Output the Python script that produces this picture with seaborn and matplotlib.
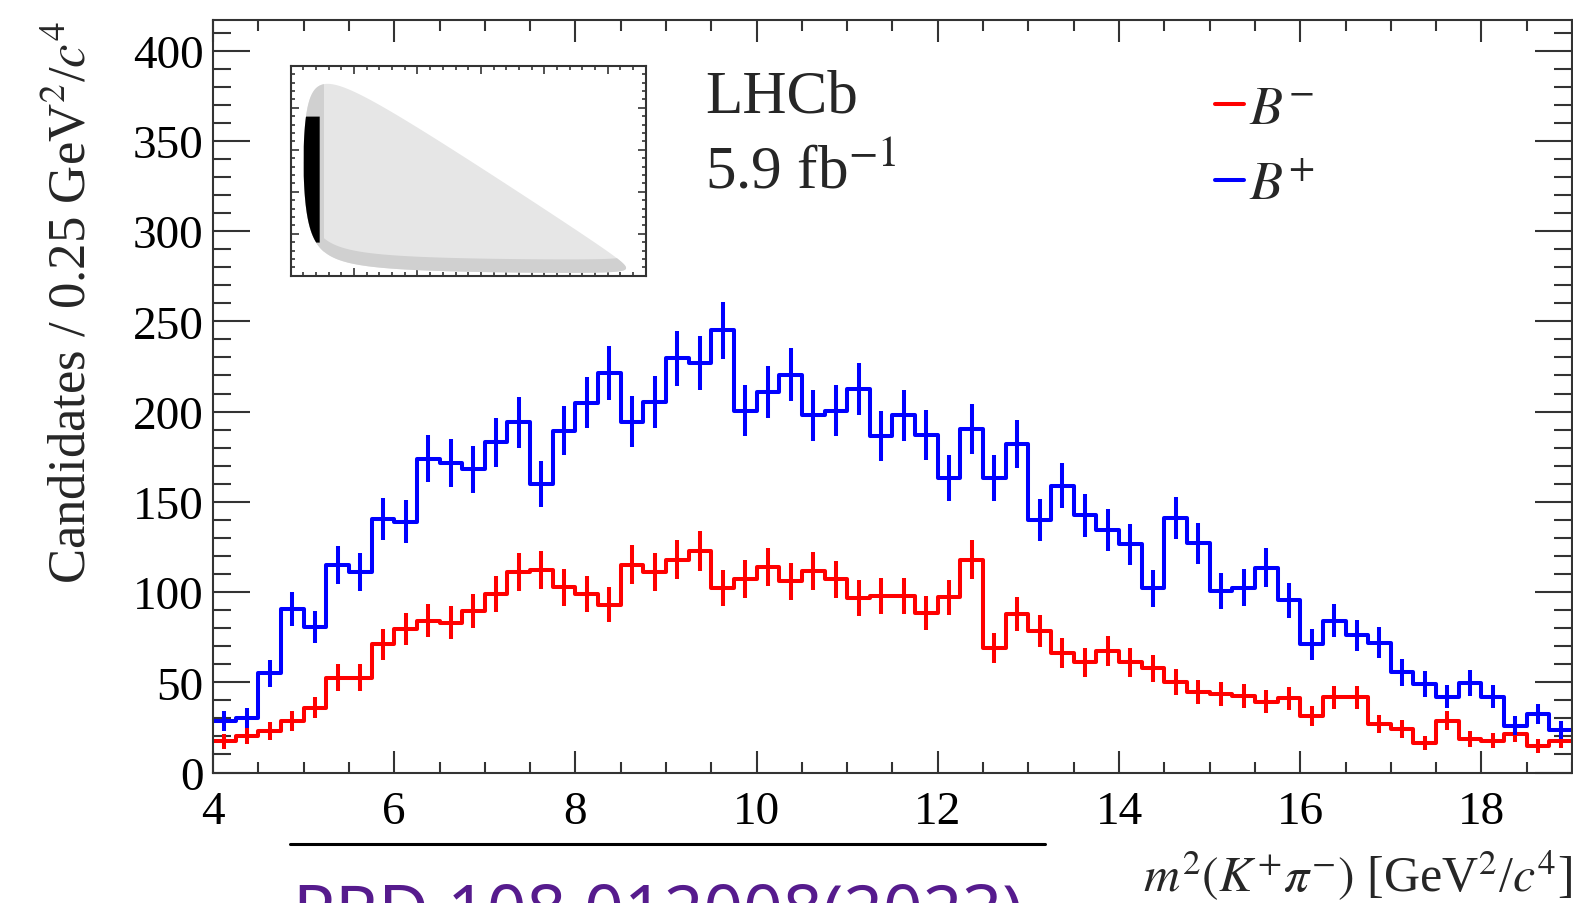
import numpy as np
import pandas as pd
import matplotlib
matplotlib.use("Agg")
import matplotlib.pyplot as plt
from matplotlib.lines import Line2D
from matplotlib.ticker import MultipleLocator, NullFormatter
import seaborn as sns

# ---------------- data ----------------
bin_lo, bin_hi, bin_w = 4.0, 19.0, 0.25

counts_bminus = [17.4, 20, 23, 28.5, 36, 52.6, 52.6, 71, 79.4, 84,
                 83, 89.6, 99, 111, 112, 102.6, 99, 93, 115.2, 111.2,
                 118, 122.6, 102.3, 107.3, 114, 106, 111.5, 107, 96.8, 98,
                 98, 88.5, 97, 118, 69, 87.8, 78.6, 66.2, 61, 67.5,
                 61, 57.7, 50.3, 44.4, 43.5, 42.5, 39.2, 41.1, 31.5, 41.7,
                 41.7, 26.9, 24.1, 16.3, 28.7, 18.6, 17.6, 21.3, 14.8, 17.6]

counts_bplus = [28.5, 30, 55, 90.5, 80.5, 115, 111, 140.5, 139, 174,
                171.5, 168, 183, 194, 160, 189.5, 205, 221.5, 194.5, 205.5,
                229.5, 227, 245, 200.5, 211, 220.5, 198, 200.5, 212.5, 186.5,
                198, 187, 163, 190.5, 163, 182, 140, 159, 142.5, 134.5,
                126.5, 102, 141, 127, 100.5, 102.5, 113.5, 95.5, 71, 84,
                76, 72, 55.5, 49, 42, 49.5, 42, 26, 32.5, 23.5]

series_labels = [r"$B^{-}$", r"$B^{+}$"]
series_colors = ["#ff0000", "#0000ff"]

# inset (Dalitz plot) kinematics: B- -> K- K+ pi-
m_B, m_K, m_pi = 5.279, 0.4937, 0.1396
cut_mKK2_max = 2.25
cut_mKpi2 = (4.0, 19.0)

edges = np.arange(bin_lo, bin_hi + bin_w / 2, bin_w)
centres = 0.5 * (edges[:-1] + edges[1:])

df = pd.concat([
    pd.DataFrame({"m2": centres, "n": counts_bminus, "charge": "B-"}),
    pd.DataFrame({"m2": centres, "n": counts_bplus, "charge": "B+"}),
], ignore_index=True)

# ---------------- style ----------------
sns.set_theme(style="ticks")
plt.rcParams["font.family"] = ["Liberation Serif", "DejaVu Serif"]
plt.rcParams["mathtext.fontset"] = "stix"
plt.rcParams["axes.unicode_minus"] = True

W, H = 1573, 904
fig = plt.figure(figsize=(W / 100, H / 100), dpi=100)
ax = fig.add_axes([213 / W, 1 - 773.5 / H, (1572 - 213) / W, (773.5 - 21) / H])

frame_col = "#333333"
lw = 2.9

sns.histplot(data=df, x="m2", weights="n", hue="charge",
             binwidth=bin_w, binrange=(bin_lo, bin_hi),
             element="step", fill=False,
             palette={"B-": series_colors[0], "B+": series_colors[1]},
             linewidth=lw, legend=False, ax=ax, hue_order=["B-", "B+"])

for vals, col in [(counts_bminus, series_colors[0]), (counts_bplus, series_colors[1])]:
    v = np.asarray(vals)
    ax.errorbar(centres, v, yerr=np.sqrt(v), fmt="none", ecolor=col,
                elinewidth=lw, capsize=0)

ax.set_xlim(bin_lo, bin_hi)
ax.set_ylim(0, 417)
ax.xaxis.set_major_locator(MultipleLocator(2))
ax.xaxis.set_minor_locator(MultipleLocator(0.5))
ax.yaxis.set_major_locator(MultipleLocator(50))
ax.yaxis.set_minor_locator(MultipleLocator(10))

for s in ax.spines.values():
    s.set_color(frame_col)
    s.set_linewidth(1.5)

ax.tick_params(which="both", direction="in", top=True, right=True,
               color=frame_col, width=1.5, labelsize=34, labelcolor="black")
ax.tick_params(axis="x", which="major", length=16, pad=13)
ax.tick_params(axis="x", which="minor", length=8)
ax.tick_params(axis="y", which="major", length=26.5, pad=7)
ax.tick_params(axis="y", which="minor", length=13)

ax.set_ylabel(r"Candidates / 0.25 GeV$^{2}$/$c^{4}$", fontsize=38, loc="top")
ax.yaxis.set_label_coords(-0.086, 1.0)
ax.set_xlabel(r"$m^{2}(K^{+}\pi^{-})$ [GeV$^{2}$/$c^{4}$]", fontsize=36, loc="right")
ax.xaxis.set_label_coords(1.0, -0.1)

ax.text(0.362, 0.935, "LHCb", transform=ax.transAxes, fontsize=44,
        ha="left", va="top")
ax.text(0.362, 0.834, r"5.9 fb$^{-1}$", transform=ax.transAxes, fontsize=44,
        ha="left", va="top")

handles = [Line2D([], [], color=c, lw=lw) for c in series_colors]
ax.legend(handles, series_labels, loc="upper left", bbox_to_anchor=(0.737, 0.914),
          frameon=False, fontsize=39, handlelength=0.55, handletextpad=0.08,
          labelspacing=0.46, borderpad=0, borderaxespad=0)

# ---------------- inset: Dalitz plot ----------------
axi = fig.add_axes([290.7 / W, 1 - 276.7 / H, (645.7 - 290.7) / W, (276.7 - 66.7) / H])
x_min = (2 * m_K) ** 2
x_max = (m_B - m_pi) ** 2
xs = np.linspace(x_min, x_max, 1500)
m12 = np.sqrt(xs)
E2 = (xs - m_K ** 2 + m_K ** 2) / (2 * m12)
E3 = (m_B ** 2 - xs - m_pi ** 2) / (2 * m12)
p2 = np.sqrt(np.clip(E2 ** 2 - m_K ** 2, 0, None))
p3 = np.sqrt(np.clip(E3 ** 2 - m_pi ** 2, 0, None))
y_hi = (E2 + E3) ** 2 - (p2 - p3) ** 2
y_lo = (E2 + E3) ** 2 - (p2 + p3) ** 2

axi.fill_between(xs, y_lo, y_hi, color="#e6e6e6", lw=0)
axi.fill_between(xs, y_lo, np.minimum(y_lo + 1.6, y_hi), color="#d0d0d0", lw=0)
sel_left = xs < 2.6
axi.fill_between(xs[sel_left], y_lo[sel_left], y_hi[sel_left], color="#d0d0d0", lw=0)
sel_b = xs <= cut_mKK2_max
lo_b = np.maximum(y_lo[sel_b], cut_mKpi2[0])
hi_b = np.minimum(y_hi[sel_b], cut_mKpi2[1])
axi.fill_between(xs[sel_b], lo_b, hi_b, where=hi_b > lo_b, color="black", lw=0)

axi.set_xlim(0, 28)
axi.set_ylim(0, 25)
axi.xaxis.set_major_locator(MultipleLocator(5))
axi.xaxis.set_minor_locator(MultipleLocator(1))
axi.yaxis.set_major_locator(MultipleLocator(5))
axi.yaxis.set_minor_locator(MultipleLocator(1))
axi.xaxis.set_major_formatter(NullFormatter())
axi.yaxis.set_major_formatter(NullFormatter())
axi.tick_params(which="both", direction="in", top=True, right=True,
                color=frame_col, width=1.2, labelbottom=False, labelleft=False)
axi.tick_params(which="major", length=6)
axi.tick_params(which="minor", length=3)
for s in axi.spines.values():
    s.set_color(frame_col)
    s.set_linewidth(1.5)

# ---------------- footer ----------------
fig.add_artist(Line2D([290 / W, 1045 / W], [1 - 845 / H] * 2, transform=fig.transFigure,
                      color="black", lw=2.2))
fig.text(293 / W, 1 - 935 / H, "PRD 108 012008(2023)", color="#561b8d",
         fontsize=50, family=["Noto Sans", "DejaVu Sans"], ha="left", va="baseline")

fig.savefig("out.png", dpi=100)
